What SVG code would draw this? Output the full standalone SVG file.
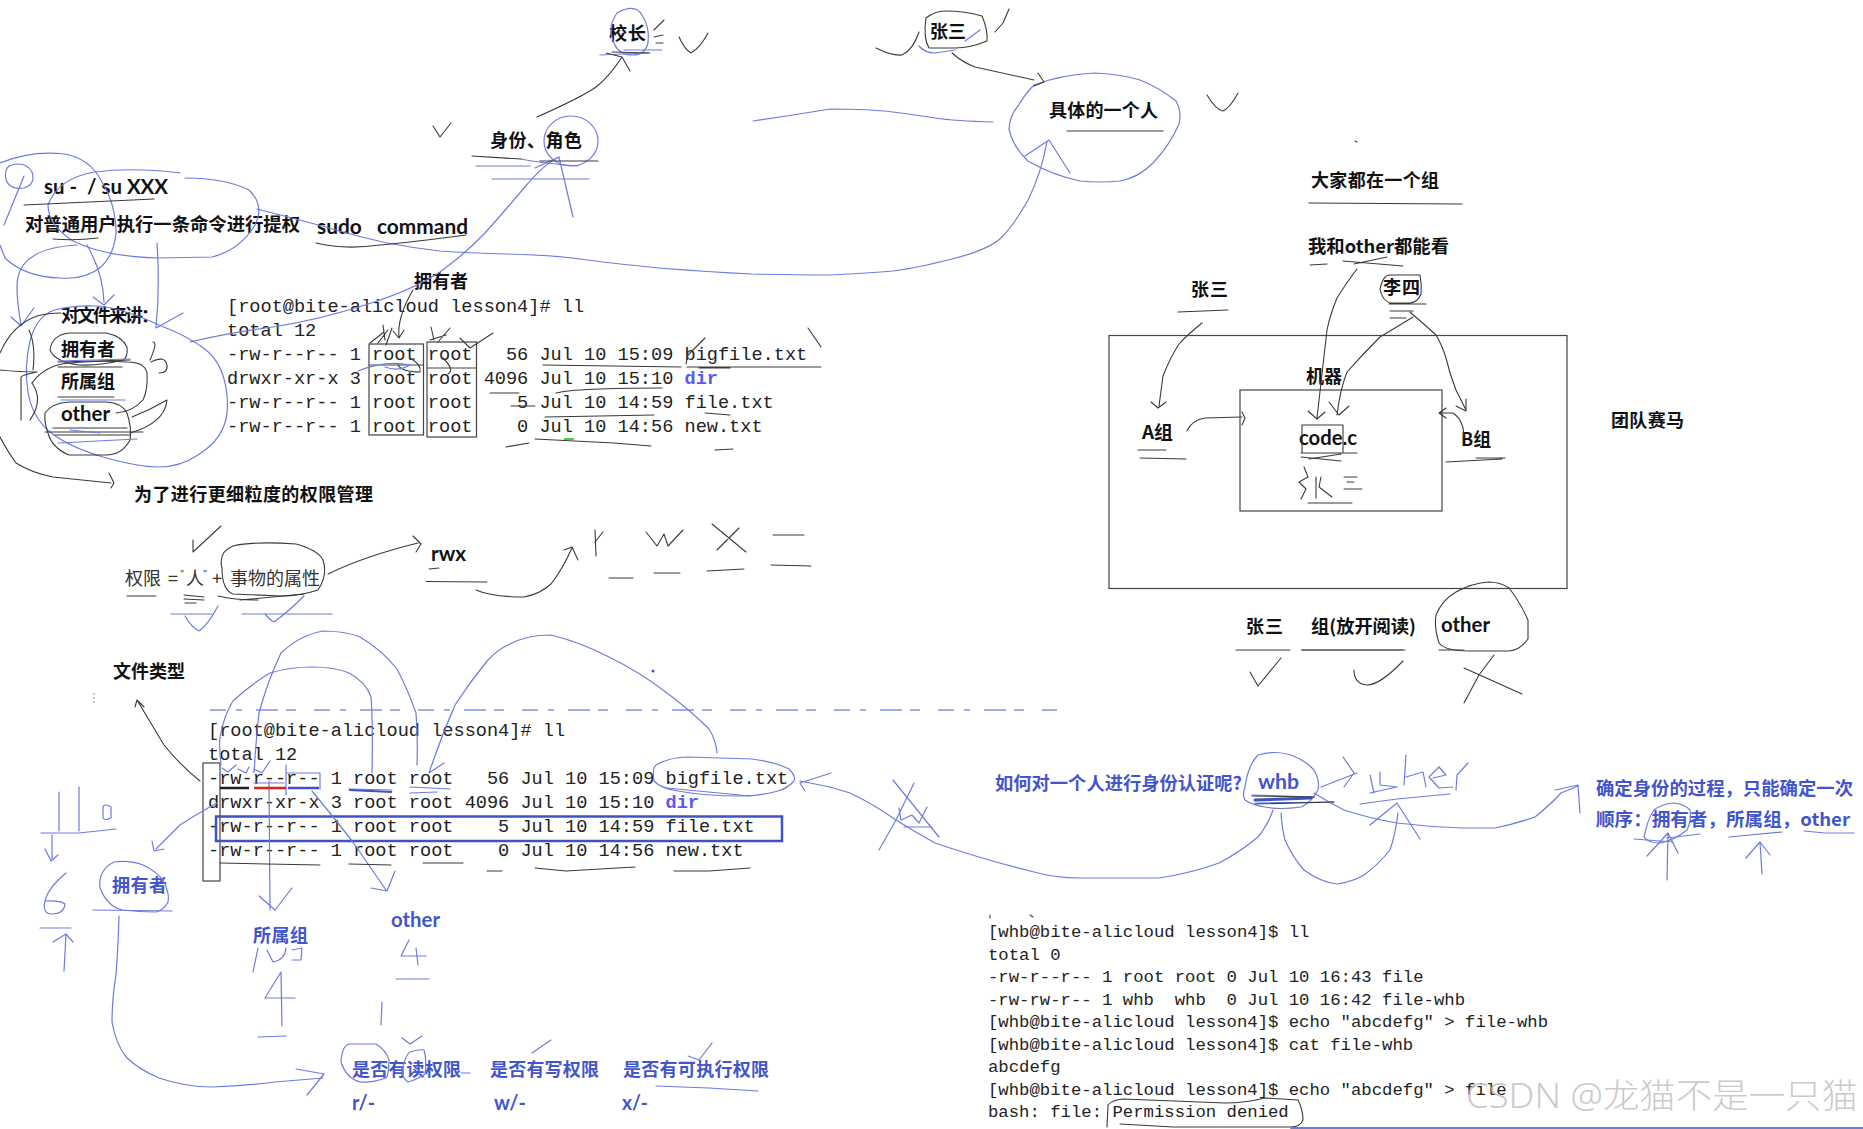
<svg xmlns="http://www.w3.org/2000/svg" width="1863" height="1129" viewBox="0 0 1863 1129">
<style>
text{white-space:pre}
.t{font-family:"Liberation Mono","DejaVu Sans Mono",monospace;font-size:18.6px;fill:#222}
.t3{font-family:"Liberation Mono","DejaVu Sans Mono",monospace;font-size:17.3px;fill:#222}
.d{fill:#5a5af0;font-weight:700}
.z{font-family:"Noto Sans CJK SC","Liberation Sans",sans-serif;font-size:18px;font-weight:700;fill:#111}
.r{font-family:"Noto Sans CJK SC","Liberation Sans",sans-serif;font-size:18px;font-weight:400;fill:#333}
.l{font-family:Lato,"Noto Sans CJK SC",sans-serif;font-size:20px;font-weight:700;fill:#111}
.u{fill:#4355cc}
.w{font-family:"Noto Sans","Noto Sans CJK SC",sans-serif;font-size:34px;font-weight:300;fill:#bdbdbd;fill-opacity:.8}
.k,.b,.h{fill:none;stroke-linecap:round;stroke-linejoin:round}
.k{stroke:#3a3a3a;stroke-width:1.1}
.b{stroke:#6d7be0;stroke-width:1.2}
.h{stroke:#3f52c4;stroke-width:3}
.box{fill:none;stroke:#444;stroke-width:1.2}
</style>
<rect width="1863" height="1129" fill="#fff"/>

<g id="terminal-1">
<text class="t" x="227" y="312">[root@bite-alicloud lesson4]# ll</text>
<text class="t" x="227" y="336">total 12</text>
<text class="t" x="227" y="360">-rw-r--r-- 1 root root   56 Jul 10 15:09 bigfile.txt</text>
<text class="t" x="227" y="384">drwxr-xr-x 3 root root 4096 Jul 10 15:10 <tspan class="d">dir</tspan></text>
<text class="t" x="227" y="408">-rw-r--r-- 1 root root    5 Jul 10 14:59 file.txt</text>
<text class="t" x="227" y="432">-rw-r--r-- 1 root root    0 Jul 10 14:56 new.txt</text>
<rect class="box" x="369" y="344" width="54.500" height="91"/>
<rect class="box" x="427" y="342" width="49.500" height="95"/>
<path class="box" d="M369 365H423M427 368H476"/>
</g>

<g id="terminal-2">
<text class="t" x="208" y="736">[root@bite-alicloud lesson4]# ll</text>
<text class="t" x="208" y="760">total 12</text>
<text class="t" x="208" y="784">-rw-r--r-- 1 root root   56 Jul 10 15:09 bigfile.txt</text>
<text class="t" x="208" y="808">drwxr-xr-x 3 root root 4096 Jul 10 15:10 <tspan class="d">dir</tspan></text>
<text class="t" x="208" y="832">-rw-r--r-- 1 root root    5 Jul 10 14:59 file.txt</text>
<text class="t" x="208" y="856">-rw-r--r-- 1 root root    0 Jul 10 14:56 new.txt</text>
<rect class="box" x="203" y="763" width="17" height="118"/>
<rect x="216" y="816.500" width="566" height="24.500" fill="none" stroke="#3f52c4" stroke-width="2.500"/>
<path d="M210 710H1057" fill="none" stroke="#8490e6" stroke-width="1.500" stroke-dasharray="16 10 6 14 22 8 10 18"/>
</g>

<g id="terminal-3">
<text class="t3" x="988" y="937">[whb@bite-alicloud lesson4]$ ll</text>
<text class="t3" x="988" y="960">total 0</text>
<text class="t3" x="988" y="982">-rw-r--r-- 1 root root 0 Jul 10 16:43 file</text>
<text class="t3" x="988" y="1005">-rw-rw-r-- 1 whb  whb  0 Jul 10 16:42 file-whb</text>
<text class="t3" x="988" y="1027">[whb@bite-alicloud lesson4]$ echo "abcdefg" &gt; file-whb</text>
<text class="t3" x="988" y="1050">[whb@bite-alicloud lesson4]$ cat file-whb</text>
<text class="t3" x="988" y="1072">abcdefg</text>
<text class="t3" x="988" y="1095">[whb@bite-alicloud lesson4]$ echo "abcdefg" &gt; file</text>
<text class="t3" x="988" y="1117">bash: file: Permission denied</text>
</g>

<g id="n-su"><text class="l" x="44" y="194" textLength="124" lengthAdjust="spacingAndGlyphs">su -  / su XXX</text></g>
<g id="n-tiquan"><text class="z" x="25" y="231" textLength="275" lengthAdjust="spacingAndGlyphs">对普通用户执行一条命令进行提权</text></g>
<g id="n-sudo"><text class="l" x="317" y="234" textLength="151" lengthAdjust="spacingAndGlyphs">sudo   command</text></g>
<g id="n-owner-top"><text class="z" x="414" y="288" textLength="54">拥有者</text></g>
<g id="n-forfile"><text class="z" x="61" y="322" textLength="98">对文件来讲：</text></g>
<g id="n-owner"><text class="z" x="61" y="356" textLength="54">拥有者</text></g>
<g id="n-group"><text class="z" x="61" y="388" textLength="54">所属组</text></g>
<g id="n-other"><text class="l" x="61" y="421" textLength="49" lengthAdjust="spacingAndGlyphs">other</text></g>
<g id="n-finer"><text class="z" x="134" y="501" textLength="239">为了进行更细粒度的权限管理</text></g>
<g id="n-role"><text class="z" x="490" y="147" textLength="92">身份、角色</text></g>
<g id="n-principal"><text class="z" x="609" y="40" textLength="37">校长</text></g>
<g id="n-zhangsan-top"><text class="z" x="930" y="38" textLength="36">张三</text></g>
<g id="n-person"><text class="z" x="1049" y="117" textLength="109">具体的一个人</text></g>
<g id="n-perm"><text class="r" y="585"><tspan x="125">权限</tspan><tspan x="168">=</tspan><tspan x="180" font-size="9" dy="-8">"</tspan><tspan x="186" dy="8">人</tspan><tspan x="203" font-size="9" dy="-8">"</tspan><tspan x="212" dy="8">+</tspan><tspan x="230">事物的属性</tspan></text></g>
<g id="n-rwx"><text class="l" x="431" y="561" textLength="35" lengthAdjust="spacingAndGlyphs">rwx</text></g>
<g id="n-filetype"><text class="z" x="113" y="678" textLength="72">文件类型</text></g>
<g id="n-owner-blue"><text class="z u" x="112" y="892" textLength="55">拥有者</text></g>
<g id="n-group-blue"><text class="z u" x="253" y="942" textLength="55">所属组</text></g>
<g id="n-other-blue"><text class="l u" x="391" y="927" textLength="49" lengthAdjust="spacingAndGlyphs">other</text></g>
<g id="n-read"><text class="z u" x="352" y="1076" textLength="109">是否有读权限</text></g>
<g id="n-write"><text class="z u" x="490" y="1076" textLength="109">是否有写权限</text></g>
<g id="n-exec"><text class="z u" x="623" y="1076" textLength="146">是否有可执行权限</text></g>
<g id="n-r"><text class="l u" x="352" y="1110" textLength="23" lengthAdjust="spacingAndGlyphs">r/-</text></g>
<g id="n-w"><text class="l u" x="494" y="1110" textLength="32" lengthAdjust="spacingAndGlyphs">w/-</text></g>
<g id="n-x"><text class="l u" x="622" y="1110" textLength="26" lengthAdjust="spacingAndGlyphs">x/-</text></g>
<g id="n-allgroup"><text class="z" x="1311" y="187" textLength="128">大家都在一个组</text></g>
<g id="n-meother"><text class="z" x="1308" y="253" textLength="141" lengthAdjust="spacingAndGlyphs">我和other都能看</text></g>
<g id="n-zhangsan"><text class="z" x="1191" y="296" textLength="37">张三</text></g>
<g id="n-lisi"><text class="z" x="1383" y="294" textLength="37">李四</text></g>
<g id="n-team"><rect class="box" x="1109" y="335.500" width="458" height="253"/></g>
<g id="n-machine"><rect class="box" x="1240" y="390" width="202" height="121"/><text class="z" x="1306" y="383" textLength="36">机器</text></g>
<g id="n-a"><text class="z" x="1142" y="439" textLength="31" lengthAdjust="spacingAndGlyphs">A组</text></g>
<g id="n-code"><text class="l" x="1299" y="445" textLength="58" lengthAdjust="spacingAndGlyphs">code.c</text></g>
<g id="n-b"><text class="z" x="1461" y="446" textLength="30" lengthAdjust="spacingAndGlyphs">B组</text></g>
<g id="n-race"><text class="z" x="1611" y="427" textLength="73">团队赛马</text></g>
<g id="n-zs2"><text class="z" x="1246" y="633" textLength="37">张三</text></g>
<g id="n-open"><text class="z" x="1311" y="633" textLength="105" lengthAdjust="spacingAndGlyphs">组(放开阅读)</text></g>
<g id="n-other2"><text class="l" x="1441" y="632" textLength="49" lengthAdjust="spacingAndGlyphs">other</text></g>
<g id="n-auth"><text class="z u" x="995" y="790" textLength="247" lengthAdjust="spacingAndGlyphs">如何对一个人进行身份认证呢?</text></g>
<g id="n-whb"><text class="l u" x="1258" y="789" textLength="41" lengthAdjust="spacingAndGlyphs">whb</text></g>
<g id="n-once"><text class="z u" x="1596" y="795" textLength="257" lengthAdjust="spacingAndGlyphs">确定身份的过程，只能确定一次</text></g>
<g id="n-order"><text class="z u" x="1596" y="826" textLength="254" lengthAdjust="spacingAndGlyphs">顺序：拥有者，所属组，other</text></g>
<g id="watermark"><text class="w" x="1466" y="1108" textLength="392" lengthAdjust="spacingAndGlyphs">CSDN @龙猫不是一只猫</text></g>

<g id="connectors">
<g class="b">
<path d="M9 166Q25 160 32 172Q36 184 24 188Q10 190 6 180Q4 170 9 166M24 176L4 225"/>
<path d="M0 163Q32 150 64 154Q90 158 102 182Q116 205 116 233Q114 255 101 267Q85 280 60 278Q25 277 5 258L0 245"/>
<path d="M180 173Q132 167 95 172Q58 178 48 205Q48 225 73 241Q105 257 160 258L212 257Q240 250 255 225Q265 205 249 190Q225 178 185 178"/>
<path d="M257 209Q312 223 336 230Q360 237 387 243Q413 248 440 251Q466 253 508 254Q551 255 580 259Q609 263 659 268Q709 272 752 274Q794 275 830 275Q870 273 893 271Q916 268 952 259Q988 250 1001 238Q1014 225 1028 200Q1041 174 1047 142"/>
<path d="M1025 156L1049 140L1070 173"/>
<path d="M190 342Q228 333 273 327Q318 320 365 305Q413 290 440 272Q466 253 485 233Q503 213 524 188Q545 163 559 157"/>
<path d="M535 168L559 157L573 217"/>
<path d="M87 245Q103 273 104 302M93 297L104 305L114 295"/>
<path d="M157 243Q160 287 156 328L183 313"/>
<path d="M77 245Q48 247 35 255Q21 263 18 277Q15 290 21 325M11 317L21 326L34 308"/>
<path d="M159 325Q122 308 98 306Q74 305 55 310Q37 315 30 341Q24 367 28 392Q32 417 50 432Q69 447 103 457Q138 467 159 467Q180 467 198 455Q217 443 223 428Q230 413 226 388Q222 363 206 350Q190 337 159 325"/>
<path d="M753 121Q794 115 830 109Q870 109 893 112Q916 115 935 118Q955 121 993 122"/>
<path d="M617 13Q635 3 642 15Q650 27 648 43Q645 55 633 55Q617 55 613 40Q607 28 617 13Z"/>
<path d="M600 55L648 53M624 50L662 50M476 166H530M492 179H589M521 159Q540 163 578 166"/>
<ellipse cx="571" cy="141" rx="27" ry="25"/>
</g>
<g class="k">
<path d="M537 117Q582 97 596 87Q609 77 622 57M606 53L622 57L630 71"/>
<path d="M612 52L650 53M654 30L664 20M654 37L663 35M656 43L663 43"/>
<path d="M679 37Q685 50 691 53Q700 48 708 33M433 126L440 137L451 123"/>
<path d="M472 156L521 159M540 161H598"/>
<path d="M24 205L154 199M53 239Q75 241 98 238M316 243Q344 250 380 245Q413 242 466 235"/>
<path d="M413 290Q397 317 399 337M393 331L399 338L404 330"/>
<path d="M50 350Q52 335 69 333L106 333Q122 336 127 347Q128 358 123 360Q100 366 79 365Q55 362 50 350"/>
<path d="M32 383Q45 365 69 363Q100 360 127 362Q145 362 147 373Q148 390 143 400Q132 412 116 413"/>
<path d="M45 413Q52 403 69 402L106 402Q122 403 127 413Q132 428 130 440Q122 455 106 455L69 455Q52 448 48 433Q44 422 45 413"/>
<path d="M0 353Q12 325 37 316Q48 313 61 313M29 330Q36 345 33 370M150 360Q158 342 153 342"/>
<path d="M0 370Q20 372 37 372Q22 375 21 377L21 420M30 420Q44 400 32 383"/>
<path d="M151 362Q165 355 167 365Q168 373 159 373M130 433Q165 423 167 400Q150 410 132 417"/>
<path d="M0 437Q8 452 16 463Q32 473 53 477L111 483M109 473L114 483L111 488"/>
<path d="M58 362L130 360M58 367L122 367M58 397L114 397M53 428H127M45 432H143M55 435H130"/>
</g>
<g class="b"><path d="M58 361L130 359M61 400L125 400M58 443L137 439M70 430L100 433"/></g>
<g class="k">
<path d="M370 343L384 332M378 343L388 330M385 340L383 325M392 328L386 345M434 340L431 327M438 342L450 328M430 340L446 335M460 338L470 348L493 333"/>
<path d="M543 365L681 367M556 393Q577 388 662 388M545 417L654 415M535 439L614 443L651 446M506 447L529 443M715 450L733 449"/>
<path d="M490 393L519 393M511 406L535 406M687 367L821 367M821 347L808 328M705 338L688 355L686 364M699 368L730 368M705 413L730 415"/>
<path d="M410 358Q422 365 420 372Q402 372 398 365M443 358Q455 370 448 374"/>
</g>
<g class="b"><path d="M358 371Q385 360 410 365Q398 372 385 367"/></g>
<path d="M564 439H574" stroke="#38d838" stroke-width="2" fill="none"/>
<g class="k">
<path d="M221 526L193 552M193 540L193 552"/>
<path d="M222 568Q218 552 233 546Q254 541 296 544Q318 550 323 560Q328 575 318 590Q300 596 281 596L233 594Q222 590 222 568"/>
<path d="M328 574Q365 556 418 543M413 536L421 544L416 552"/>
<path d="M429 569L439 568M426 581.500L487 582"/>
<path d="M476 590Q492 597 524 597Q540 594 551 584Q562 570 572 548M564 550L572 547L578 560"/>
<path d="M596 556L595 530M595 542L603 532M609 578H633M646 532L657 546L664 534L668 546L683 530M654 573H680M712 524L746 552M739 528L717 550M707 571L744 569M773 535H804M771 565L811 566"/>
<path d="M127 596H156M184 595L204 597M184 599L204 600M185 603H196M218 596Q235 600 258 600M240 600L304 594"/>
<path d="M137 700L164 745Q180 765 200 781M135 707L137 700L144 707"/>
</g>
<g class="b">
<path d="M171 614H212M242 614H332M185 616Q192 628 199 631Q208 625 218 606M265 614Q270 620 274 622Q288 612 304 596"/>
<path d="M221 765Q219 745 220 737Q224 715 233 701Q250 685 270 673Q290 667 312 667Q335 667 349 673Q366 682 371 697Q373 725 372 773"/>
<path d="M254 773Q256 740 259 713Q268 680 281 653Q300 635 323 631Q345 631 360 637Q382 650 397 669Q408 690 416 713Q418 740 417 765"/>
<path d="M717 753Q716 740 709 729Q690 710 667 693Q640 672 609 657Q580 642 551 635Q525 635 508 645Q497 650 487 661Q470 682 455 705Q440 740 429 773L444 763"/>
<path d="M654 781Q652 768 656 765Q670 757 688 757L752 759Q775 762 789 769Q796 776 794 781Q788 788 778 791Q760 796 741 796Q705 796 678 791Q660 788 654 781"/>
<path d="M667 788L750 796"/>
<path d="M800 781L830 787M831 773L800 783L805 791"/>
<path d="M222 768L228 772L236 765M238 769L246 773L249 767M254 769L262 773L270 761M254 783H284M286 765V795M286 773H320V789"/>
<path d="M217 803Q195 815 180 825L156 849M152 841L154 851L164 849"/>
<path d="M269 781L270 910M259 896L275 910L292 888"/>
<path d="M312 791Q340 825 355 845L386 890M371 888L387 891L395 871"/>
<path d="M349 789L392 790M410 787L450 789M410 793L437 792"/>
<path d="M100 888Q98 870 114 862Q130 860 143 865Q158 872 164 882Q170 895 168 902Q164 910 156 912Q140 912 122 910Q107 906 100 888"/>
<path d="M93 910L172 911"/>
<path d="M119 916Q118 950 116 974Q112 1000 112 1022Q116 1045 127 1058Q140 1070 159 1078Q185 1087 212 1087Q245 1086 275 1082L323 1078M296 1069L324 1074L307 1095"/>
<path d="M59 792V831M79 787V831M103 807Q104 803 111 807V818Q105 821 103 818Z"/>
<path d="M41 833L79 833L116 829M52 835V859M45 849L51 861L58 855"/>
<path d="M66 873Q48 888 45 901Q42 914 52 914Q64 914 65 904Q60 900 45 901M40 928H71M64 971L66 934M53 942L66 934L73 942"/>
<path d="M253 972L258 948M267 950L273 962Q285 960 286 948M292 950L302 948L301 960H292"/>
<path d="M281 972L265 998H295M281 972L282 1026M258 1037L286 1036"/>
<path d="M409 940L401 956H426M416 948L418 965M396 979H429M382 1002L381 1025M402 1038L410 1044L422 1036"/>
<path d="M341 1062Q342 1046 349 1044L376 1044Q386 1050 389 1060Q389 1075 386 1078Q372 1083 360 1082Q346 1078 341 1062"/>
<path d="M402 1070Q406 1054 410 1052Q420 1049 424 1050Q427 1060 425 1074Q416 1080 408 1082Q402 1078 402 1070"/>
<path d="M461 1073L470 1073M532 1053L551 1040M688 1056L699 1060L712 1043M656 1086L709 1088L758 1091"/>
</g>
<path d="M220 788H249" stroke="#222" stroke-width="2.500" fill="none"/>
<path d="M254 788H286" stroke="#e02020" stroke-width="2.500" fill="none"/>
<path d="M288 788H319" stroke="#3f52c4" stroke-width="2.500" fill="none"/>
<path d="M349 790L392 792" stroke="#3f52c4" stroke-width="2" fill="none"/>
<g class="k"><path d="M220 863L320 865M349 864L391 865M423 863H463M487 871H502M535 868L566 871L635 867M674 871L709 871L750 868"/></g>
<circle cx="653" cy="671" r="1.500" fill="#4355cc"/>
<g class="b">
<path d="M919 46Q925 53 935 53L955 50M965 41L980 30"/>
<path d="M1034 85Q1060 75 1094 73Q1120 74 1140 80Q1160 88 1176 101Q1182 112 1179 124Q1170 145 1153 163Q1138 178 1120 181Q1100 183 1080 181Q1052 175 1028 161Q1013 147 1009 129Q1010 115 1018 106Q1025 94 1034 85"/>
</g>
<g class="k">
<path d="M926 18Q935 11 945 11Q965 11 982 16Q988 30 987 41Q970 48 955 48L929 48Q923 38 926 18"/>
<path d="M876 48Q892 56 902 55Q913 50 919 32M995 32L1003 23L1009 9"/>
<path d="M952 53Q962 62 975 67L1034 80M1038 73L1044 82L1034 86"/>
<path d="M1067 131H1163M1207 95Q1216 110 1223 111Q1230 108 1238 93M1355 141L1357 142"/>
<path d="M1309 203L1462 204M1310 265L1327 264M1343 261L1403 266M1354 264L1387 257M1178 312L1228 310"/>
<path d="M1380 289Q1383 275 1390 275H1420Q1422 285 1421 294Q1418 302 1410 303H1390Q1382 300 1380 289M1389 304H1426M1390 311H1413M1390 318H1406"/>
<path d="M1138 450H1166M1140 458L1186 459"/>
<path d="M1302 452V425H1343V452M1301 453H1357M1301 457L1341 461M1341 454L1309 459"/>
<path d="M1304 467L1308 477L1299 482L1306 489L1301 499M1316 477V498M1321 477L1319 487L1332 497M1344 477H1357M1347 482H1354M1344 489H1362M1308 503H1352"/>
<path d="M1476 458H1505M1446 462L1502 459"/>
<path d="M1202 323Q1187 335 1179 344Q1170 358 1163 376L1159 406M1151 402L1158 408L1166 402"/>
<path d="M1187 431Q1192 420 1205 418L1242 417M1242 412L1245 418L1242 425"/>
<path d="M1464 438Q1464 420 1453 413H1439M1446 408L1439 413L1446 418"/>
<path d="M1357 269Q1345 285 1337 298Q1330 315 1327 330L1317 418M1308 411L1317 419L1325 412"/>
<path d="M1413 317Q1395 328 1380 337Q1362 355 1347 372Q1340 390 1337 415M1329 402L1339 415L1349 406"/>
<path d="M1410 312Q1425 325 1436 335Q1442 345 1446 358Q1450 375 1456 390L1466 410M1456 406L1466 411L1466 399"/>
<path d="M1236 650H1290M1403 650H1405M1439 650H1464"/>
<path d="M1302 650H1402" stroke-width="2" stroke="#777"/>
<path d="M1439 643Q1434 628 1436 615Q1442 600 1456 592Q1472 583 1489 582Q1500 582 1509 588Q1520 602 1528 620V639Q1520 650 1509 651H1469Q1445 651 1439 643"/>
<path d="M1250 672L1258 686L1281 658M1354 670Q1354 684 1367 685Q1380 685 1403 661M1464 668L1522 694M1494 655L1479 675L1464 703"/>
<path d="M1107 1127L1108 1105Q1112 1100 1123 1099L1225 1103Q1245 1103 1265 1098L1298 1100Q1303 1110 1303 1120Q1300 1127 1291 1127H1173L1120 1124"/>
</g>
<g class="b">
<path d="M830 787L850 793Q875 805 896 820Q915 832 935 843Q985 860 1034 872Q1055 878 1080 878H1159Q1192 873 1219 863Q1240 852 1258 837Q1268 825 1273 810"/>
<path d="M893 780L939 837M914 783L896 820L879 850M899 808L901 820L912 815L919 823L927 807M904 827H932"/>
<path d="M1245 787Q1248 765 1258 755Q1275 750 1291 755Q1305 760 1314 770Q1320 780 1318 790Q1312 802 1301 807Q1280 810 1265 807Q1252 805 1245 800Q1242 795 1245 787"/>
<path d="M1252 795L1314 797M1255 803L1334 802"/>
<path d="M1281 813Q1282 828 1285 840Q1293 858 1304 870Q1320 882 1337 884Q1352 882 1364 875Q1378 865 1390 850Q1396 832 1398 813M1370 825L1397 803L1420 839"/>
<path d="M1314 793Q1328 802 1344 810Q1368 818 1397 823Q1430 827 1462 828H1495Q1515 824 1535 817Q1550 805 1561 793L1578 786M1555 790L1578 785L1580 813"/>
<path d="M1321 787L1357 773M1343 757L1354 773L1344 787"/>
<path d="M1370 775L1374 793M1370 793L1397 787M1380 772V785L1397 787M1406 755L1404 785M1406 777L1423 772L1426 787M1433 778L1446 775L1439 767L1429 777L1439 788L1453 787M1456 790L1457 775L1468 763"/>
<path d="M1360 804L1397 799L1450 794"/>
<path d="M1644 837Q1648 818 1654 810Q1662 804 1673 803Q1685 804 1690 810Q1692 820 1687 830Q1675 840 1660 843Q1648 843 1644 837"/>
<path d="M1667 880L1668 833M1647 856L1668 833L1678 853M1634 839L1673 842M1667 838L1700 834"/>
<path d="M1762 874L1760 842M1746 858L1760 842L1770 855M1729 837L1782 832M1804 831L1825 833L1854 833"/>
<path d="M1291 1128H1863" stroke-width="2"/>
</g>
<path d="M1255 800L1311 798" class="h"/>
<g class="k"><path d="M1252 796L1314 797M1255 804L1334 802M990 915V918M1030 915L1033 917"/></g>
<path d="M94 693V703" stroke="#888" stroke-width="1" stroke-dasharray="2 2" fill="none"/>
</g>
</svg>
